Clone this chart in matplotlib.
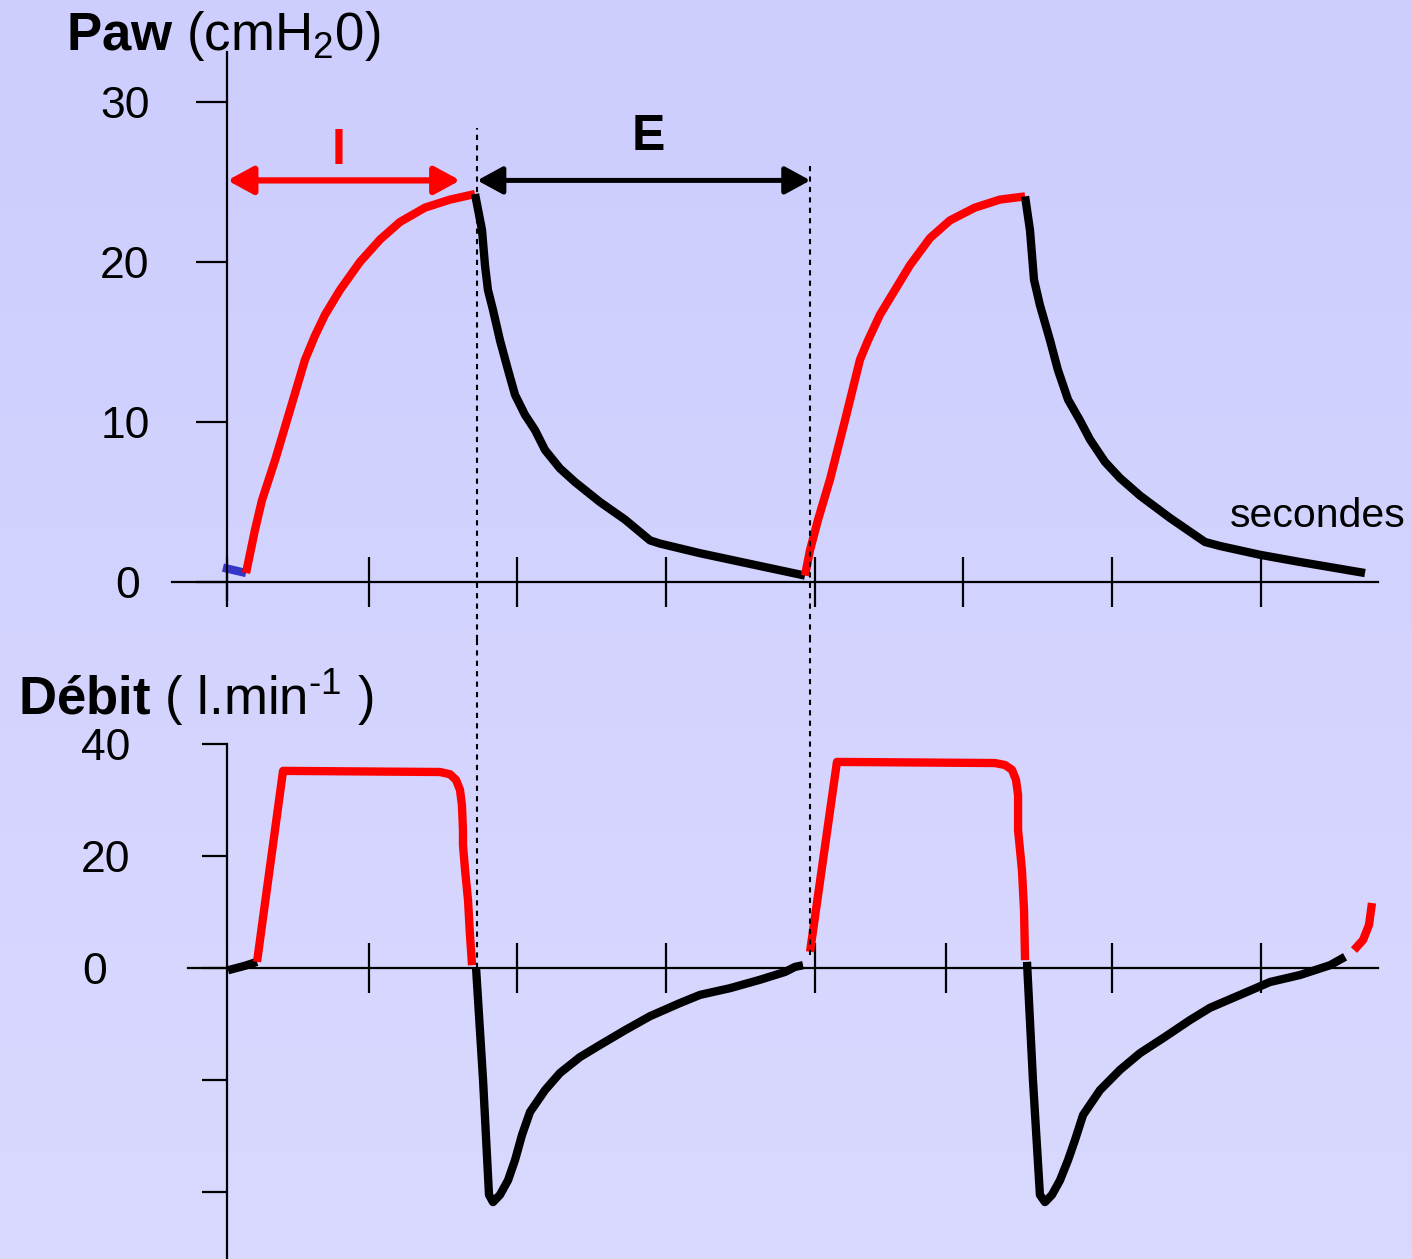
import numpy as np
import matplotlib.pyplot as plt
from matplotlib.colors import LinearSegmentedColormap

plt.rcParams['font.family'] = ['Liberation Sans', 'DejaVu Sans']
plt.rcParams['mathtext.fontset'] = 'custom'
plt.rcParams['mathtext.rm'] = 'Liberation Sans'
plt.rcParams['mathtext.bf'] = 'Liberation Sans:bold'

# --- airway pressure (cmH2O) vs time (s) ---
t_paw_start = [0.02, 0.175]
paw_start = [0.9, 0.56]

t_insp1 = [0.175, 0.235, 0.282, 0.370, 0.471, 0.572, 0.639, 0.706, 0.807, 0.941,
           1.076, 1.210, 1.379, 1.547, 1.715]
paw_insp1 = [0.56, 3.25, 5.1, 7.6, 10.75, 13.9, 15.4, 16.7, 18.25, 20.0,
             21.4, 22.5, 23.4, 23.9, 24.25]
t_exp1 = [1.715, 1.762, 1.782, 1.802, 1.836, 1.883, 1.937, 1.984, 2.051, 2.118,
          2.186, 2.286, 2.387, 2.555, 2.724, 2.892, 2.959, 3.228, 3.631, 3.934]
paw_exp1 = [24.25, 22.0, 19.8, 18.25, 17.0, 15.1, 13.25, 11.7, 10.45, 9.5,
            8.25, 7.1, 6.25, 5.0, 3.9, 2.6, 2.4, 1.8, 1.0, 0.4]

t_insp2 = [3.934, 3.968, 4.022, 4.102, 4.203, 4.304, 4.358, 4.438, 4.539, 4.640,
           4.775, 4.909, 5.077, 5.245, 5.414]
paw_insp2 = [0.4, 2.0, 3.9, 6.4, 10.1, 13.9, 15.1, 16.7, 18.25, 19.8,
             21.5, 22.6, 23.4, 23.9, 24.1]
t_exp2 = [5.414, 5.447, 5.474, 5.514, 5.582, 5.635, 5.703, 5.783, 5.851, 5.952,
          6.052, 6.187, 6.389, 6.624, 6.725, 6.994, 7.263, 7.700]
paw_exp2 = [24.1, 22.0, 18.9, 17.3, 15.1, 13.25, 11.4, 10.1, 8.9, 7.5,
            6.5, 5.4, 4.0, 2.5, 2.25, 1.7, 1.25, 0.56]

# --- flow (l/min) vs time (s) ---
t_flow_start = [0.054, 0.168, 0.249]
flow_start = [-0.4, 0.4, 1.1]

t_finsp1 = [0.249, 0.424, 1.479, 1.547, 1.587, 1.614, 1.627, 1.634, 1.634, 1.648,
            1.668, 1.681, 1.695]
flow_insp1 = [1.1, 35.2, 35.0, 34.6, 33.6, 31.8, 29.1, 24.6, 22.0, 17.5,
              12.1, 5.9, 0.5]
t_fexp1 = [1.722, 1.769, 1.809, 1.836, 1.883, 1.937, 1.984, 2.031, 2.085, 2.186,
           2.286, 2.421, 2.555, 2.724, 2.892, 3.094, 3.228, 3.430, 3.631, 3.800,
           3.867, 3.921]
flow_exp1 = [0.0, -20.0, -40.5, -41.8, -40.5, -37.9, -34.3, -29.8, -25.7, -21.8,
             -18.75, -15.9, -13.75, -11.1, -8.6, -6.25, -4.8, -3.6, -2.1, -0.7,
             0.2, 0.5]

t_finsp2 = [3.968, 4.149, 5.212, 5.279, 5.326, 5.353, 5.367, 5.367, 5.380, 5.393,
            5.407, 5.414]
flow_insp2 = [2.9, 36.8, 36.6, 36.25, 35.4, 33.6, 30.9, 24.6, 21.1, 17.5,
              10.4, 1.4]
t_fexp2 = [5.427, 5.467, 5.514, 5.548, 5.595, 5.649, 5.703, 5.750, 5.804, 5.918,
           6.052, 6.187, 6.355, 6.523, 6.658, 6.860, 7.061, 7.263, 7.465, 7.566]
flow_exp2 = [1.1, -20.0, -40.5, -41.8, -40.5, -37.9, -34.3, -30.7, -26.25, -21.8,
             -18.2, -15.2, -12.3, -9.3, -7.1, -4.8, -2.5, -1.25, 0.5, 2.0]

t_finsp3 = [7.626, 7.687, 7.727, 7.747]
flow_insp3 = [3.2, 5.0, 7.7, 11.6]

paw_ticks = [0, 10, 20, 30]
paw_tick_labels = ['', '10', '20', '30']
flow_ticks = [40, 20, 0, -20, -40]
flow_tick_labels = ['40', '20', '', '', '']
T_AXIS = 0.05
time_ticks = [T_AXIS, 1, 2, 3, 4, 5, 6, 7]
time_ticks_flow = [1, 2, 3, 4, 4.88, 6, 7]

t_end_insp = 1.73
t_end_exp = 3.97

W, H = 1412, 1259
fig = plt.figure(figsize=(W / 100, H / 100), dpi=100)

# lavender background, slightly lighter towards the bottom
bg = fig.add_axes([0, 0, 1, 1], zorder=-10)
grad = np.linspace(0, 1, 256).reshape(-1, 1)
bg.imshow(grad, aspect='auto', origin='lower', extent=[0, 1, 0, 1],
          cmap=LinearSegmentedColormap.from_list('bg', ['#D9D9FE', '#CDCDFE']))
bg.axis('off')

XLIM = (-220 / 148.7, (W - 220) / 148.7)
RED = '#FF0000'
LW = 6.0
DASH = (0, (2.5, 2.5))


def style_axes(ax, y_bounds, x_bounds):
    ax.patch.set_visible(False)
    ax.set_xlim(*XLIM)
    for s in ('top', 'right'):
        ax.spines[s].set_visible(False)
    ax.spines['left'].set_position(('data', T_AXIS))
    ax.spines['bottom'].set_position(('data', 0))
    ax.spines['left'].set_bounds(*y_bounds)
    ax.spines['bottom'].set_bounds(*x_bounds)
    for s in ('left', 'bottom'):
        ax.spines[s].set_linewidth(1.6)
    ax.tick_params(axis='x', direction='inout', length=36, width=1.6, labelbottom=False)


def curve(ax, t, v, color):
    ax.plot(t, v, color=color, lw=LW, solid_capstyle='butt', solid_joinstyle='round')


def zero_label(ax, dx_pt):
    # the "0" sits a bit further out than the other tick labels
    ax.annotate('0', xy=(T_AXIS, 0), xytext=(dx_pt, 0), textcoords='offset points',
                ha='right', va='center_baseline', fontsize=32)


# ---------- pressure panel ----------
ax_p = fig.add_axes([0, 1 - 640 / H, 1, 640 / H])
ax_p.set_ylim(-3.625, 36.375)
style_axes(ax_p, (-1.1, 33.1), (-0.32, 7.79))
ax_p.set_xticks(time_ticks)
ax_p.set_yticks(paw_ticks)
ax_p.set_yticklabels(paw_tick_labels)
ax_p.tick_params(axis='y', direction='out', length=22, width=1.6, pad=34, labelsize=32)
zero_label(ax_p, -63)

curve(ax_p, t_paw_start, paw_start, '#3535C8')
curve(ax_p, t_insp1, paw_insp1, RED)
curve(ax_p, t_exp1, paw_exp1, 'black')
curve(ax_p, t_insp2, paw_insp2, RED)
curve(ax_p, t_exp2, paw_exp2, 'black')

# inspiration / expiration markers
ax_p.vlines([t_end_insp, t_end_exp], [-3.625, -3.625], [28.4, 26.25],
            colors='black', lw=1.5, linestyles=DASH)
ax_p.annotate('', xy=(T_AXIS, 25.1), xytext=(1.615, 25.1),
              arrowprops=dict(arrowstyle='<|-|>,head_length=0.55,head_width=0.3',
                              color=RED, lw=4.5, shrinkA=0, shrinkB=0, mutation_scale=28))
ax_p.annotate('', xy=(t_end_insp, 25.1), xytext=(t_end_exp, 25.1),
              arrowprops=dict(arrowstyle='<|-|>,head_length=0.55,head_width=0.3',
                              color='black', lw=3.6, shrinkA=0, shrinkB=0, mutation_scale=28))
ax_p.text(0.80, 26.1, 'I', color=RED, fontsize=36, fontweight='bold', ha='center', va='baseline')
ax_p.text(2.88, 27.0, 'E', color='black', fontsize=36, fontweight='bold', ha='center', va='baseline')

# ---------- flow panel ----------
ax_f = fig.add_axes([0, 0, 1, 619 / H])
ax_f.set_ylim(-51.96, 58.57)
style_axes(ax_f, (-52.5, 40), (-0.215, 7.79))
ax_f.set_xticks(time_ticks_flow)
ax_f.set_yticks(flow_ticks)
ax_f.set_yticklabels(flow_tick_labels)
ax_f.tick_params(axis='y', direction='out', length=18, width=1.6, pad=52, labelsize=32)
zero_label(ax_f, -87)

curve(ax_f, t_flow_start, flow_start, 'black')
curve(ax_f, t_finsp1, flow_insp1, RED)
curve(ax_f, t_fexp1, flow_exp1, 'black')
curve(ax_f, t_finsp2, flow_insp2, RED)
curve(ax_f, t_fexp2, flow_exp2, 'black')
curve(ax_f, t_finsp3, flow_insp3, RED)

ax_f.vlines([t_end_insp, t_end_exp], [0.0, 2.3], [58.57, 58.57],
            colors='black', lw=1.5, linestyles=DASH)

# ---------- titles ----------
fig.text(66 / W, 1 - 50 / H, r'$\mathbf{Paw}$ (cmH$_2$0)', fontsize=38, va='baseline')
fig.text(18 / W, 1 - 715 / H, r'$\mathbf{Débit}$ ( l.min$^{\text{-1}}$ )', fontsize=38, va='baseline')
fig.text(1230 / W, 1 - 527 / H, 'secondes', fontsize=29.5, va='baseline')

fig.savefig('out.png', dpi=100)
